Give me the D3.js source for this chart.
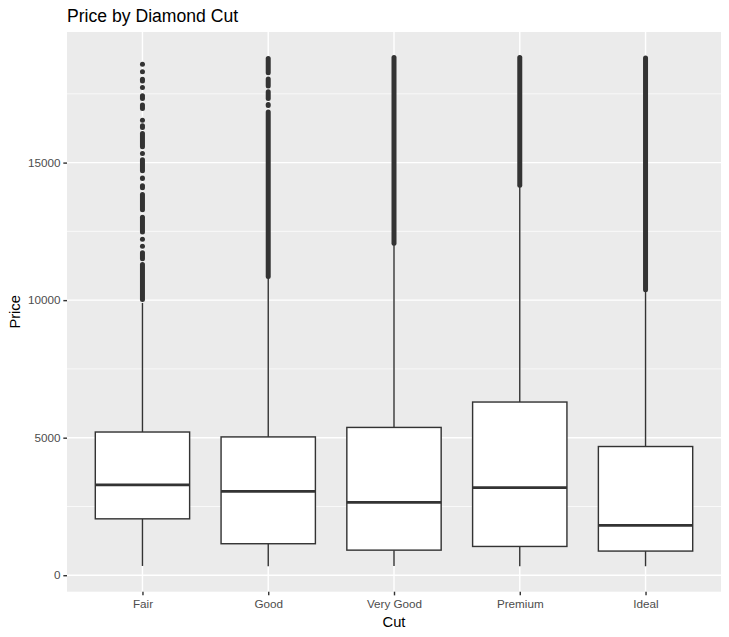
<!DOCTYPE html>
<html>
<head>
<meta charset="utf-8">
<title>Price by Diamond Cut</title>
<script src="https://cdnjs.cloudflare.com/ajax/libs/d3/7.8.5/d3.min.js"></script>
<style>
  body { margin: 0; background: #ffffff; }
  text { font-family: "Liberation Sans", Arial, sans-serif; }
</style>
</head>
<body>
<div id="chart"></div>
<script>
//------------- Data -----------------------------------------
var cuts = ["Fair", "Good", "Very Good", "Premium", "Ideal"];

// five number summary per cut (price)
var lowerWhisker = [337, 327, 336, 326, 326];
var q1 = [2050, 1145, 912, 1046, 878];
var medians = [3282, 3050, 2648, 3185, 1810];
var q3 = [5206, 5028, 5373, 6296, 4679];
var upperWhisker = [9900, 10845, 12060, 14165, 10375];

// outliers: runs of overlapping points, [lowest, highest] price of each run
var fairOutliers = [
    [18574, 18574], [18300, 18300], [17970, 18030], [17730, 17730],
    [17330, 17430], [16970, 17090], [16540, 16540], [16280, 16340],
    [15574, 16058], [15330, 15330], [14700, 15100], [14420, 14440],
    [14090, 14160], [13290, 13836], [12477, 13010], [12215, 12215],
    [11956, 11956], [11504, 11723], [10025, 11300]
];
var goodOutliers = [[18270, 18788], [17785, 18040], [17333, 17577], [17078, 17115], [10863, 16838]];
var veryGoodOutliers = [[12070, 18818]];
var premiumOutliers = [[14180, 18823]];
var idealOutliers = [[10382, 18806]];
var outliers = [fairOutliers, goodOutliers, veryGoodOutliers, premiumOutliers, idealOutliers];

var yTicks = [0, 5000, 10000, 15000];
var yMinor = [2500, 7500, 12500, 17500];

//------------- Space for the chart --------------------
var width = 729;
var height = 637;
var panel = { left: 67, right: 721, top: 32, bottom: 591.7 };

var svg = d3
    .select("#chart")
    .append("svg")
    .attr("width", width)
    .attr("height", height);

// ggplot style expansion: 5% on the price axis, 0.6 units on the discrete axis
var dataMin = 326;
var dataMax = 18823;
var pad = (dataMax - dataMin) * 0.05;

var yScale = d3
    .scaleLinear()
    .domain([dataMin - pad, dataMax + pad])
    .range([panel.bottom, panel.top]);

// first and last cut sit 0.6 steps in from the panel edges
var xScale = d3
    .scalePoint()
    .domain(cuts)
    .range([panel.left, panel.right])
    .padding(0.6);
var boxWidth = xScale.step() * 0.75;

//------------- Panel and grid --------------------
svg.append("rect")
    .attr("x", panel.left)
    .attr("y", panel.top)
    .attr("width", panel.right - panel.left)
    .attr("height", panel.bottom - panel.top)
    .attr("fill", "#EBEBEB");

var grid = svg.append("g").attr("class", "grid");

grid.selectAll("line.minor")
    .data(yMinor)
    .enter()
    .append("line")
    .attr("class", "minor")
    .attr("x1", panel.left)
    .attr("x2", panel.right)
    .attr("y1", function(d) { return yScale(d); })
    .attr("y2", function(d) { return yScale(d); })
    .attr("stroke", "#ffffff")
    .attr("stroke-width", 0.71);

grid.selectAll("line.majorY")
    .data(yTicks)
    .enter()
    .append("line")
    .attr("class", "majorY")
    .attr("x1", panel.left)
    .attr("x2", panel.right)
    .attr("y1", function(d) { return yScale(d); })
    .attr("y2", function(d) { return yScale(d); })
    .attr("stroke", "#ffffff")
    .attr("stroke-width", 1.42);

grid.selectAll("line.majorX")
    .data(cuts)
    .enter()
    .append("line")
    .attr("class", "majorX")
    .attr("x1", function(d) { return xScale(d); })
    .attr("x2", function(d) { return xScale(d); })
    .attr("y1", panel.top)
    .attr("y2", panel.bottom)
    .attr("stroke", "#ffffff")
    .attr("stroke-width", 1.42);

//------------- Boxplots --------------------
var boxData = cuts.map(function(c, i) {
    return {
        cut: c,
        lo: lowerWhisker[i],
        q1: q1[i],
        med: medians[i],
        q3: q3[i],
        hi: upperWhisker[i],
        out: outliers[i]
    };
});

var boxes = svg.selectAll("g.box")
    .data(boxData)
    .enter()
    .append("g")
    .attr("class", "box");

// whiskers
boxes.append("line")
    .attr("x1", function(d) { return xScale(d.cut); })
    .attr("x2", function(d) { return xScale(d.cut); })
    .attr("y1", function(d) { return yScale(d.q3); })
    .attr("y2", function(d) { return yScale(d.hi); })
    .attr("stroke", "#333333")
    .attr("stroke-width", 1.42);

boxes.append("line")
    .attr("x1", function(d) { return xScale(d.cut); })
    .attr("x2", function(d) { return xScale(d.cut); })
    .attr("y1", function(d) { return yScale(d.q1); })
    .attr("y2", function(d) { return yScale(d.lo); })
    .attr("stroke", "#333333")
    .attr("stroke-width", 1.42);

// box
boxes.append("rect")
    .attr("x", function(d) { return xScale(d.cut) - boxWidth / 2; })
    .attr("y", function(d) { return yScale(d.q3); })
    .attr("width", boxWidth)
    .attr("height", function(d) { return yScale(d.q1) - yScale(d.q3); })
    .attr("fill", "#ffffff")
    .attr("stroke", "#333333")
    .attr("stroke-width", 1.42);

// median
boxes.append("line")
    .attr("x1", function(d) { return xScale(d.cut) - boxWidth / 2; })
    .attr("x2", function(d) { return xScale(d.cut) + boxWidth / 2; })
    .attr("y1", function(d) { return yScale(d.med); })
    .attr("y2", function(d) { return yScale(d.med); })
    .attr("stroke", "#333333")
    .attr("stroke-width", 2.84);

// outliers, each run is a stack of r=2.5 points
var r = 2.5;
boxes.each(function(d) {
    d3.select(this)
        .selectAll("rect.out")
        .data(d.out)
        .enter()
        .append("rect")
        .attr("class", "out")
        .attr("x", xScale(d.cut) - r)
        .attr("y", function(o) { return yScale(o[1]) - r; })
        .attr("width", 2 * r)
        .attr("height", function(o) { return yScale(o[0]) - yScale(o[1]) + 2 * r; })
        .attr("rx", r)
        .attr("ry", r)
        .attr("fill", "#333333");
});

//------------- Axes --------------------
var yAxis = d3.axisLeft(yScale)
    .tickValues(yTicks)
    .tickSize(3.67)
    .tickPadding(2.9)
    .tickFormat(d3.format("d"));

var xAxis = d3.axisBottom(xScale)
    .tickSize(3.67)
    .tickPadding(4.5);

var gy = svg.append("g")
    .attr("transform", "translate(" + panel.left + ",0)")
    .call(yAxis);

var gx = svg.append("g")
    .attr("transform", "translate(0," + panel.bottom + ")")
    .call(xAxis);

[gx, gy].forEach(function(g) {
    g.select(".domain").remove();
    g.selectAll(".tick line")
        .attr("stroke", "#333333")
        .attr("stroke-width", 1.42);
    g.selectAll(".tick text")
        .attr("fill", "#4D4D4D")
        .style("font-size", "11.7px")
        .style("font-family", "'Liberation Sans', Arial, sans-serif");
});

//------------- Titles --------------------
svg.append("text")
    .attr("x", panel.left)
    .attr("y", 21.5)
    .style("font-size", "17.6px")
    .attr("fill", "#000000")
    .text("Price by Diamond Cut");

svg.append("text")
    .attr("x", (panel.left + panel.right) / 2)
    .attr("y", 627)
    .attr("text-anchor", "middle")
    .style("font-size", "14.7px")
    .attr("fill", "#000000")
    .text("Cut");

svg.append("text")
    .attr("transform", "translate(19.5," + ((panel.top + panel.bottom) / 2) + ")rotate(-90)")
    .attr("text-anchor", "middle")
    .style("font-size", "14.7px")
    .attr("fill", "#000000")
    .text("Price");
</script>
</body>
</html>
